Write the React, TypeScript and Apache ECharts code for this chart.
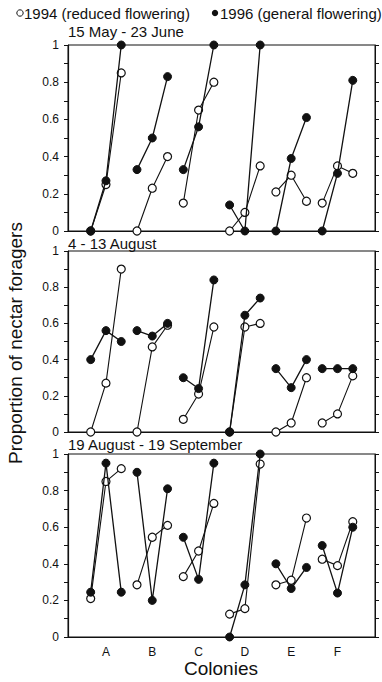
import React, { useEffect, useRef } from "react";
import * as echarts from "echarts";

const colonies = ["A", "B", "C", "D", "E", "F"];
const periods = ["15 May - 23 June", "4 - 13 August", "19 August - 19 September"];
const yTicks = [0, 0.2, 0.4, 0.6, 0.8, 1];

// Proportion of nectar foragers: three samples per colony
const open1994_p1 = [[0, 0.25, 0.85], [0, 0.23, 0.40], [0.15, 0.65, 0.80], [0, 0.10, 0.35], [0.21, 0.30, 0.16], [0.15, 0.35, 0.31]];
const filled1996_p1 = [[0, 0.27, 1.0], [0.33, 0.50, 0.83], [0.33, 0.56, 1.0], [0.14, 0, 1.0], [0, 0.39, 0.61], [0, 0.31, 0.81]];
const open1994_p2 = [[0, 0.27, 0.90], [0, 0.47, 0.59], [0.07, 0.21, 0.58], [0, 0.58, 0.60], [0, 0.05, 0.30], [0.05, 0.10, 0.31]];
const filled1996_p2 = [[0.40, 0.56, 0.50], [0.56, 0.53, 0.60], [0.30, 0.24, 0.84], [0, 0.645, 0.74], [0.35, 0.245, 0.40], [0.35, 0.35, 0.35]];
const open1994_p3 = [[0.21, 0.85, 0.92], [0.285, 0.545, 0.61], [0.33, 0.47, 0.73], [0.125, 0.155, 0.945], [0.285, 0.31, 0.65], [0.425, 0.39, 0.63]];
const filled1996_p3 = [[0.245, 0.95, 0.245], [0.90, 0.20, 0.81], [0.545, 0.315, 0.95], [0, 0.285, 1.0], [0.40, 0.265, 0.38], [0.50, 0.24, 0.60]];

const openSets = [open1994_p1, open1994_p2, open1994_p3];
const filledSets = [filled1996_p1, filled1996_p2, filled1996_p3];

const FONT = "Liberation Sans, Arial, Helvetica, sans-serif";
const OFFSET = 0.33;

export default function App() {
  const ref = useRef<HTMLDivElement>(null);
  useEffect(() => {
    if (!ref.current) return;
    const chart = echarts.init(ref.current, null, { renderer: "svg" });
    const panels = [
      { top: 45, height: 186 },
      { top: 251, height: 181 },
      { top: 454, height: 183 },
    ];
    const grid = panels.map((p) => ({
      left: 68,
      right: 7,
      top: p.top,
      height: p.height,
      show: true,
      borderColor: "#111",
      borderWidth: 1,
      backgroundColor: "transparent",
    }));
    const xAxis = panels.map((_, i) => ({
      type: "value",
      gridIndex: i,
      min: 0.18,
      max: 6.81,
      splitLine: { show: false },
      axisTick: { show: false },
      axisLine: { show: true, lineStyle: { color: "#111", width: 1 } },
      axisLabel: {
        show: i === 2,
        customValues: [1, 2, 3, 4, 5, 6],
        formatter: (v: number) => colonies[Math.round(v) - 1] || "",
        color: "#111",
        fontFamily: FONT,
        fontSize: 12,
        margin: 9,
      },
    }));
    const yAxis: any[] = [];
    panels.forEach((_, i) => {
      yAxis.push({
        type: "value",
        gridIndex: i,
        min: 0,
        max: 1,
        interval: 0.1,
        position: "left",
        splitLine: { show: false },
        axisLine: { show: true, lineStyle: { color: "#111", width: 1.2 } },
        axisTick: { show: true, inside: false, length: 4, lineStyle: { color: "#111" } },
        axisLabel: {
          color: "#111",
          fontFamily: FONT,
          fontSize: 12,
          margin: 9,
          formatter: (v: number) => {
            const t = Math.round(v * 10) / 10;
            return yTicks.some((y) => Math.abs(y - t) < 1e-6) ? String(t) : "";
          },
        },
      });
      yAxis.push({
        type: "value",
        gridIndex: i,
        min: 0,
        max: 1,
        interval: 0.1,
        position: "right",
        splitLine: { show: false },
        axisLine: { show: true, lineStyle: { color: "#111", width: 1 } },
        axisTick: { show: true, inside: false, length: 4, lineStyle: { color: "#111" } },
        axisLabel: { show: false },
      });
    });

    const series: any[] = [];
    const mk = (vals: number[], c: number) =>
      vals.map((v, j) => [c + 1 + (j - 1) * OFFSET, v]);
    panels.forEach((_, i) => {
      openSets[i].forEach((vals, c) => {
        series.push({
          type: "line",
          name: "1994",
          xAxisIndex: i,
          yAxisIndex: i * 2,
          data: mk(vals, c),
          symbol: "circle",
          symbolSize: 8,
          clip: false,
          z: 2,
          lineStyle: { color: "#111", width: 1.1 },
          itemStyle: { color: "#fff", borderColor: "#111", borderWidth: 1.2 },
        });
      });
      filledSets[i].forEach((vals, c) => {
        series.push({
          type: "line",
          name: "1996",
          xAxisIndex: i,
          yAxisIndex: i * 2,
          data: mk(vals, c),
          symbol: "circle",
          symbolSize: 8,
          clip: false,
          z: 3,
          lineStyle: { color: "#111", width: 1.3 },
          itemStyle: { color: "#111", borderColor: "#111", borderWidth: 1 },
        });
      });
    });

    const titleYs = [31, 243, 444];
    const graphic: any[] = [
      { type: "circle", shape: { cx: 20, cy: 13, r: 3.2 }, style: { fill: "#fff", stroke: "#111", lineWidth: 1 } },
      { type: "text", x: 24, y: 13, style: { text: "1994 (reduced flowering)", font: `15px ${FONT}`, fill: "#111", textVerticalAlign: "middle" } },
      { type: "circle", shape: { cx: 215, cy: 13, r: 3.2 }, style: { fill: "#111" } },
      { type: "text", x: 220, y: 13, style: { text: "1996 (general flowering)", font: `15px ${FONT}`, fill: "#111", textVerticalAlign: "middle" } },
      ...periods.map((t, i) => ({
        type: "text",
        x: 68,
        y: titleYs[i],
        style: { text: t, font: `15px ${FONT}`, fill: "#111", textVerticalAlign: "middle" },
      })),
      {
        type: "text",
        x: 15,
        y: 343,
        rotation: Math.PI / 2,
        style: { text: "Proportion of nectar foragers", font: `19px ${FONT}`, fill: "#111", textAlign: "center", textVerticalAlign: "middle" },
      },
      {
        type: "text",
        x: 221,
        y: 668,
        style: { text: "Colonies", font: `19px ${FONT}`, fill: "#111", textAlign: "center", textVerticalAlign: "middle" },
      },
    ];

    chart.setOption({
      animation: false,
      backgroundColor: "#fff",
      grid,
      xAxis,
      yAxis,
      series,
      graphic,
    });
    return () => chart.dispose();
  }, []);
  return (
    <div
      ref={ref}
      style={{ position: "absolute", left: 0, top: 0, width: 382, height: 682 }}
    />
  );
}
